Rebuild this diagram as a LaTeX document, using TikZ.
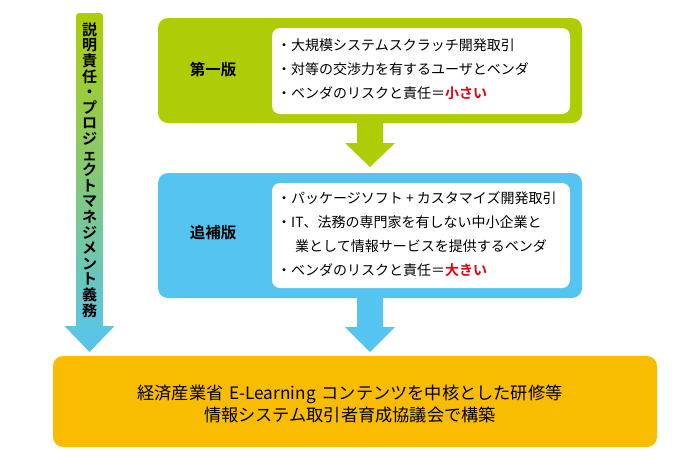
\documentclass[tikz,border=0pt]{standalone}
\usepackage{fontspec}
\setmainfont{Noto Sans CJK JP}[BoldFont={Noto Sans CJK JP Bold}]
\usetikzlibrary{calc}
\definecolor{greenc}{HTML}{AFCD06}
\definecolor{bluec}{HTML}{56C4F1}
\definecolor{yellowc}{HTML}{F9BC00}
\definecolor{redc}{HTML}{E60012}
\begin{document}
\begin{tikzpicture}[x=1pt,y=-1pt,
  panel/.style={rectangle, rounded corners=10pt, draw=none, inner sep=0pt, outer sep=0pt},
  inbox/.style={rectangle, rounded corners=8pt, fill=white, draw=none, inner sep=0pt, outer sep=0pt},
  title/.style={font=\bfseries\fontsize{15.5}{18}\selectfont, inner sep=0pt},
  items/.style={font=\fontsize{14}{24}\selectfont, align=left, inner sep=0pt, anchor=west},
  hot/.style={text=redc, font=\bfseries}]
\useasboundingbox (0,0) rectangle (700,458);

% boxes
\node[panel, fill=greenc, minimum width=424pt, minimum height=105pt] (v1) at (370,70.5) {};
\node[inbox, minimum width=298pt, minimum height=86pt] (w1) at (421,71) {};
\node[panel, fill=bluec, minimum width=424pt, minimum height=125pt] (v2) at (370,235.5) {};
\node[inbox, minimum width=298pt, minimum height=105pt] (w2) at (421,235.5) {};
\node[panel, fill=yellowc, minimum width=604pt, minimum height=91pt] (fin) at (355,401.5) {};

% block arrows
\fill[greenc] ($(v1.south)+(-13,-2)$) -- ($(v1.south)+(13,-2)$) -- ($(v2.north)+(13,-30)$)
  -- ($(v2.north)+(25,-30)$) -- ($(v2.north)+(0,-6)$) -- ($(v2.north)+(-25,-30)$)
  -- ($(v2.north)+(-13,-30)$) -- cycle;
\fill[bluec] ($(v2.south)+(-13,-2)$) -- ($(v2.south)+(13,-2)$) -- ($(v2.south |- fin.north)+(13,-29)$)
  -- ($(v2.south |- fin.north)+(25,-29)$) -- ($(v2.south |- fin.north)+(0,-4)$)
  -- ($(v2.south |- fin.north)+(-25,-29)$) -- ($(v2.south |- fin.north)+(-13,-29)$) -- cycle;

% left gradient arrow
\coordinate (ltop) at (89.5,13);
\shade[top color=greenc, bottom color=bluec]
  ($(ltop)+(-13.5,313)$) [rounded corners=3pt] -- ($(ltop)+(-13.5,0)$) -- ($(ltop)+(13.5,0)$)
  [sharp corners] -- ($(ltop)+(13.5,313)$) -- ($(ltop)+(25,313)$) -- ($(ltop |- fin.north)+(0,-4)$)
  -- ($(ltop)+(-25,313)$) -- cycle;
\node[font=\bfseries\fontsize{15}{15.6}\selectfont, align=center, inner sep=0pt] (vt) at (89.5,170)
  {説\\明\\責\\任\\・\\プ\\ロ\\ジ\\ェ\\ク\\ト\\マ\\ネ\\ジ\\メ\\ン\\ト\\義\\務};

% texts
\node[title] (h1) at (213,70) {第一版};
\node[items] (t1) at (277,69) {・大規模システムスクラッチ開発取引\\・対等の交渉力を有するユーザとベンダ\\・ベンダのリスクと責任＝\textcolor{redc}{\bfseries 小さい}};
\node[title] (h2) at (213,233) {追補版};
\node[items] (t2) at (277,234) {・パッケージソフト + カスタマイズ開発取引\\・IT、法務の専門家を有しない中小企業と\\\hspace*{18pt}業として情報サービスを提供するベンダ\\・ベンダのリスクと責任＝\textcolor{redc}{\bfseries 大きい}};
\node[font=\fontsize{17.2}{22}\selectfont, align=center, inner sep=0pt] (ft) at (350,404)
  {経済産業省\hspace{6pt}E-Learning\hspace{6pt}コンテンツを中核とした研修等\\情報システム取引者育成協議会で構築};
\end{tikzpicture}
\end{document}
